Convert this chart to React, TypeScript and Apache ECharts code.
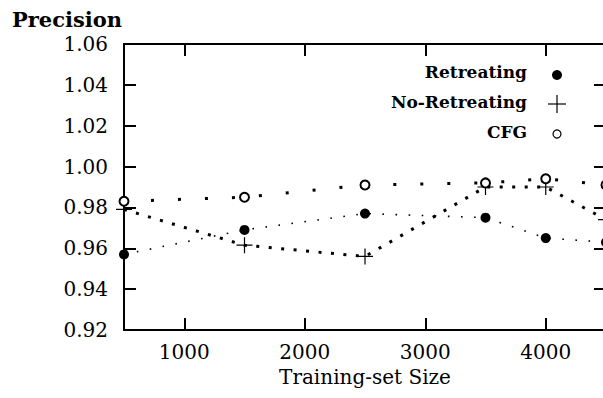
import React, { useEffect, useRef } from "react";
import * as echarts from "echarts";

const sizes = [500, 1500, 2500, 3500, 4000, 4500];
const retreating = [0.957, 0.969, 0.977, 0.975, 0.965, 0.963];
const noRetreating = [0.979, 0.9615, 0.956, 0.990, 0.990, 0.974];
const cfg = [0.983, 0.985, 0.991, 0.992, 0.994, 0.991];
const xTicks = [1000, 2000, 3000, 4000];
const legendNames = ["Retreating", "No-Retreating", "CFG"];

const FONT = "DejaVu Serif";
const plusPath = "path://M0,7.4 H16 V8.6 H0 Z M7.4,0 H8.6 V16 H7.4 Z";

export default function App() {
  const ref = useRef<HTMLDivElement>(null);
  useEffect(() => {
    if (!ref.current) return;
    const chart = echarts.init(ref.current, null, { renderer: "svg" });
    const pairs = (ys: number[]) => sizes.map((x, i) => [x, ys[i]]);
    const axisLine = { show: true, lineStyle: { color: "#000", width: 2 } };
    const tick = (cv?: number[]) => ({
      show: true,
      inside: true,
      length: 12,
      lineStyle: { color: "#000", width: 2 },
      ...(cv ? { customValues: cv } : {}),
    });
    const lx = 527;
    const ly = [72, 102, 132];
    const sx = 557;
    const option: any = {
      animation: false,
      backgroundColor: "#fff",
      title: {
        text: "Precision",
        left: 12,
        top: 9,
        padding: 0,
        textStyle: { fontFamily: FONT, fontWeight: "bold", fontSize: 21, color: "#000" },
      },
      grid: { left: 124, right: 34, top: 44, bottom: 68 },
      xAxis: [
        {
          type: "value",
          position: "bottom",
          min: 500,
          max: 4500,
          axisLine,
          axisTick: tick(xTicks),
          axisLabel: {
            customValues: xTicks,
            margin: 12,
            fontFamily: FONT,
            fontSize: 20,
            color: "#000",
            formatter: (v: number) => String(v),
          },
          splitLine: { show: false },
          name: "Training-set Size",
          nameLocation: "middle",
          nameGap: 32,
          nameTextStyle: { fontFamily: FONT, fontSize: 20, color: "#000" },
        },
        {
          type: "value",
          position: "top",
          min: 500,
          max: 4500,
          axisLine,
          axisTick: tick(xTicks),
          axisLabel: { show: false },
          splitLine: { show: false },
        },
      ],
      yAxis: [
        {
          type: "value",
          position: "left",
          min: 0.92,
          max: 1.06,
          interval: 0.02,
          axisLine,
          axisTick: tick(),
          axisLabel: {
            margin: 16,
            fontFamily: FONT,
            fontSize: 20,
            color: "#000",
            formatter: (v: number) => v.toFixed(2),
          },
          splitLine: { show: false },
        },
        {
          type: "value",
          position: "right",
          min: 0.92,
          max: 1.06,
          interval: 0.02,
          axisLine,
          axisTick: tick(),
          axisLabel: { show: false },
          splitLine: { show: false },
        },
      ],
      series: [
        {
          name: legendNames[0],
          type: "line",
          data: pairs(retreating),
          symbol: "circle",
          symbolSize: 10,
          itemStyle: { color: "#000" },
          lineStyle: { color: "#000", width: 1.6, type: [1.6, 11.5], cap: "butt" },
        },
        {
          name: legendNames[1],
          type: "line",
          data: pairs(noRetreating),
          symbol: plusPath,
          symbolSize: 16,
          itemStyle: { color: "#000" },
          lineStyle: { color: "#000", width: 3, type: [3, 9.5], cap: "butt" },
        },
        {
          name: legendNames[2],
          type: "line",
          data: pairs(cfg),
          symbol: "emptyCircle",
          symbolSize: 9,
          itemStyle: { color: "#000", borderWidth: 1.2 },
          lineStyle: { color: "#000", width: 3, type: [3, 24], cap: "butt" },
        },
      ],
      graphic: [
        ...legendNames.map((n, i) => ({
          type: "text",
          x: lx,
          y: ly[i],
          style: {
            text: n,
            textAlign: "right",
            textVerticalAlign: "middle",
            fontFamily: FONT,
            fontWeight: "bold",
            fontSize: 17,
            fill: "#000",
          },
        })),
        { type: "circle", shape: { cx: sx, cy: ly[0] + 3, r: 5 }, style: { fill: "#000" } },
        { type: "line", shape: { x1: sx - 9, y1: ly[1] + 2, x2: sx + 9, y2: ly[1] + 2 }, style: { stroke: "#000", lineWidth: 1.2 } },
        { type: "line", shape: { x1: sx, y1: ly[1] - 7, x2: sx, y2: ly[1] + 11 }, style: { stroke: "#000", lineWidth: 1.2 } },
        { type: "circle", shape: { cx: sx, cy: ly[2] + 2, r: 4 }, style: { fill: "#fff", stroke: "#000", lineWidth: 1.2 } },
      ],
    };
    chart.setOption(option);
    return () => chart.dispose();
  }, []);
  return (
    <div style={{ position: "fixed", left: 0, top: 0, width: 603, height: 398, overflow: "hidden", background: "#fff" }}>
      <div ref={ref} style={{ width: 640, height: 398 }} />
    </div>
  );
}
